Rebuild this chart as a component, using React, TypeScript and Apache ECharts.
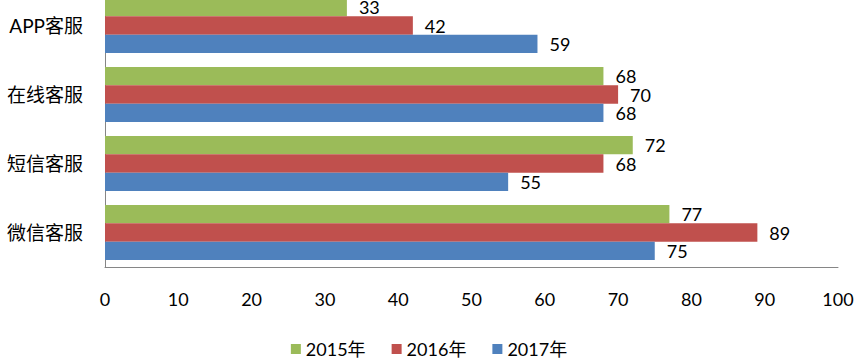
import React, { useEffect, useRef } from "react";
import * as echarts from "echarts";

const categories = ["微信客服", "短信客服", "在线客服", "APP客服"];
const seriesNames = ["2015年", "2016年", "2017年"];
const values2015 = [77, 72, 68, 33];
const values2016 = [89, 68, 70, 42];
const values2017 = [75, 55, 68, 59];
const colors = ["#9BBB59", "#C0504D", "#4F81BD"];
const xTicks = [0, 10, 20, 30, 40, 50, 60, 70, 80, 90, 100];

const FONT = 'Lato, "Noto Sans CJK SC", sans-serif';

export default function App() {
  const ref = useRef<HTMLDivElement>(null);
  useEffect(() => {
    if (!ref.current) return;
    const chart = echarts.init(ref.current, null, { renderer: "svg" });
    const data = [values2015, values2016, values2017];
    chart.setOption({
      animation: false,
      textStyle: { fontFamily: FONT },
      legend: {
        data: seriesNames,
        bottom: 0,
        left: "center",
        itemWidth: 10,
        itemHeight: 10,
        itemGap: 26,
        icon: "rect",
        textStyle: { fontSize: 18, color: "#000", fontFamily: FONT },
      },
      grid: { left: 105, right: 20, top: 0, bottom: 96, containLabel: false },
      xAxis: {
        type: "value",
        min: xTicks[0],
        max: xTicks[xTicks.length - 1],
        interval: 10,
        axisLine: { show: true, lineStyle: { color: "#868686", width: 1 } },
        axisTick: { show: false },
        splitLine: { show: false },
        axisLabel: { fontSize: 18, color: "#000", margin: 23, fontFamily: FONT },
      },
      yAxis: {
        type: "category",
        data: categories,
        axisLine: { show: true, lineStyle: { color: "#868686", width: 1 } },
        axisTick: { show: false },
        axisLabel: { fontSize: 19, color: "#000", margin: 22, fontFamily: FONT },
      },
      series: seriesNames.map((name, i) => ({
        name,
        type: "bar",
        data: data[i],
        barGap: "0%",
        barCategoryGap: "20%",
        itemStyle: { color: colors[i] },
        label: {
          show: true,
          position: "right",
          distance: 12,
          fontSize: 18,
          color: "#000",
          fontFamily: FONT,
        },
      })),
    });
    return () => chart.dispose();
  }, []);
  return (
    <div
      ref={ref}
      style={{ position: "fixed", left: 0, top: -9, width: 858, height: 372, background: "#fff" }}
    />
  );
}
